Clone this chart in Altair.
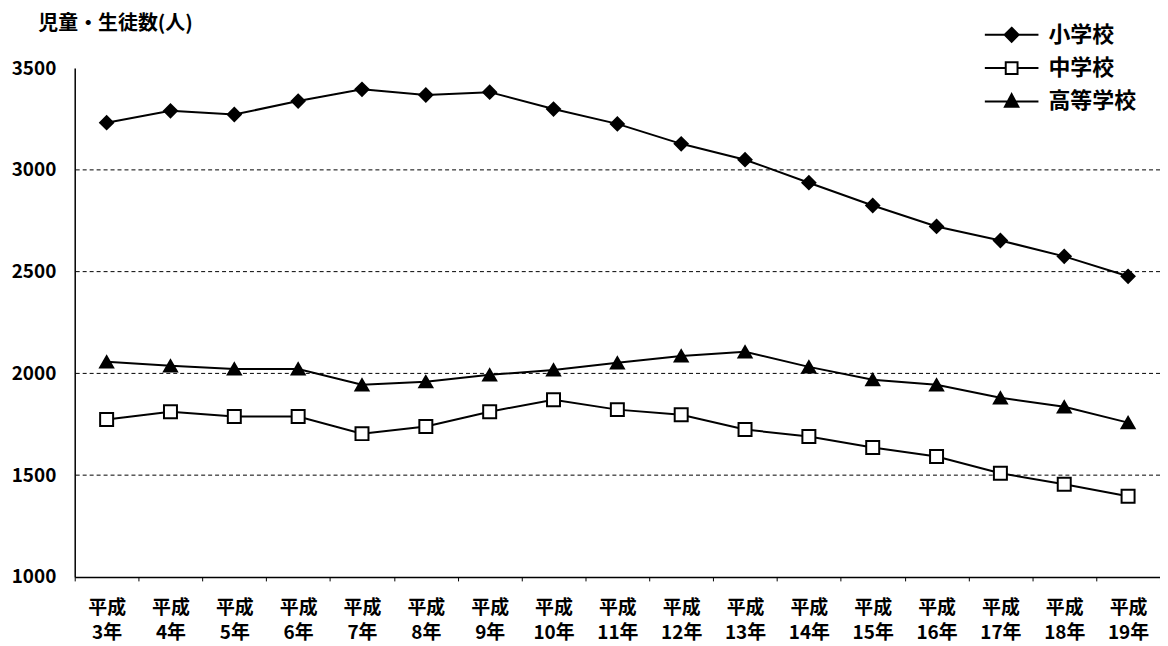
import altair as alt
import pandas as pd

years = ["平成3年", "平成4年", "平成5年", "平成6年", "平成7年", "平成8年", "平成9年", "平成10年",
         "平成11年", "平成12年", "平成13年", "平成14年", "平成15年", "平成16年", "平成17年",
         "平成18年", "平成19年"]
series = ["小学校", "中学校", "高等学校"]
elementary = [3232, 3290, 3272, 3338, 3396, 3368, 3382, 3299, 3226, 3128, 3050, 2937, 2825,
              2722, 2653, 2575, 2477]
junior = [1773, 1812, 1788, 1788, 1704, 1739, 1812, 1871, 1822, 1797, 1724, 1690, 1636, 1592,
          1509, 1455, 1396]
high = [2057, 2037, 2022, 2022, 1944, 1959, 1993, 2017, 2052, 2086, 2106, 2032, 1969, 1944,
        1880, 1836, 1758]
grid_values = [1500, 2000, 2500, 3000]
y_ticks = [1000, 1500, 2000, 2500, 3000, 3500]

rows = []
for name, vals in zip(series, [elementary, junior, high]):
    for yr, v in zip(years, vals):
        rows.append({"year": yr, "series": name, "value": v})
df = pd.DataFrame(rows)
grid_df = pd.DataFrame({"value": grid_values})

FONT = "Noto Sans CJK JP"

x_enc = alt.X("year:N", sort=years, title=None,
              scale=alt.Scale(paddingInner=0, paddingOuter=0),
              axis=alt.Axis(labelExpr="[slice(datum.label,0,2), slice(datum.label,2)]",
                            labelAngle=0, labelFontSize=19, labelFont=FONT, labelFontWeight="bold",
                            labelColor="black", labelPadding=18, labelLineHeight=25,
                            tickBand="extent", tickSize=4, tickColor="black",
                            domainColor="black", domainWidth=1.5, grid=False))
y_scale = alt.Scale(domain=[1000, 3500], nice=False, zero=False)
y_axis = alt.Axis(values=y_ticks, format="d", grid=False, tickSize=0, labelPadding=19,
                  labelFontSize=19, labelFont=FONT, labelFontWeight="bold",
                  labelColor="black", domainColor="black", domainWidth=1.5,
                  title="児童・生徒数(人)", titleAngle=0, titleAlign="left",
                  titleBaseline="middle", titleX=-37, titleY=-45,
                  titleFontSize=20, titleFont=FONT, titleFontWeight="bold",
                  titleColor="black")
y_enc = alt.Y("value:Q", scale=y_scale, axis=y_axis)

grid = alt.Chart(grid_df).mark_rule(color="black", strokeWidth=1, strokeDash=[4, 3]).encode(
    y=y_enc)

lines = alt.Chart(df).mark_line(color="black", strokeWidth=2).encode(
    x=x_enc, y=y_enc, detail="series:N")

shape_scale = alt.Scale(domain=series, range=["diamond", "square", "triangle-up"])
fill_scale = alt.Scale(domain=series, range=["black", "white", "black"])
stroke_scale = alt.Scale(domain=series, range=["black", "black", "black"])
points = alt.Chart(df).mark_point(filled=True, stroke="black", strokeWidth=2, size=170, opacity=1).encode(
    x=x_enc, y=y_enc,
    shape=alt.Shape("series:N", scale=shape_scale, legend=None),
    fill=alt.Fill("series:N", scale=fill_scale, legend=None))

legend_paths = [
    "M-1,0H1M0,-0.26L0.26,0L0,0.26L-0.26,0Z",
    "M-1,0H-0.22M0.22,0H1M-0.22,-0.22H0.22V0.22H-0.22Z",
    "M-1,0H1M0,-0.27L0.25,0.2H-0.25Z",
]
leg = alt.Legend(title=None, orient="none", legendX=913, legendY=-46, symbolSize=2900,
                 clipHeight=25, labelFontSize=22, labelFont=FONT, labelFontWeight="bold",
                 labelColor="black", labelOffset=9, rowPadding=8.5, symbolStrokeWidth=2,
                 symbolOpacity=1)
legend_layer = alt.Chart(df).transform_filter("false").mark_point(
    filled=True, strokeWidth=2, opacity=1).encode(
    x=x_enc, y=y_enc,
    shape=alt.Shape("series:N", scale=alt.Scale(domain=series, range=legend_paths), legend=leg),
    fill=alt.Fill("series:N", scale=fill_scale, legend=leg),
    stroke=alt.Stroke("series:N", scale=stroke_scale, legend=leg))

chart = alt.layer(grid, lines, points, legend_layer).resolve_scale(
    shape="independent", fill="independent", stroke="independent"
).properties(
    width=1090, height=511,
    autosize=alt.AutoSizeParams(type="none"),
    padding={"left": 67, "top": 59, "right": 0, "bottom": 66},
    background="white",
).configure_view(stroke=None)

chart.save("out.html", embed_options={"renderer": "svg", "actions": False})
